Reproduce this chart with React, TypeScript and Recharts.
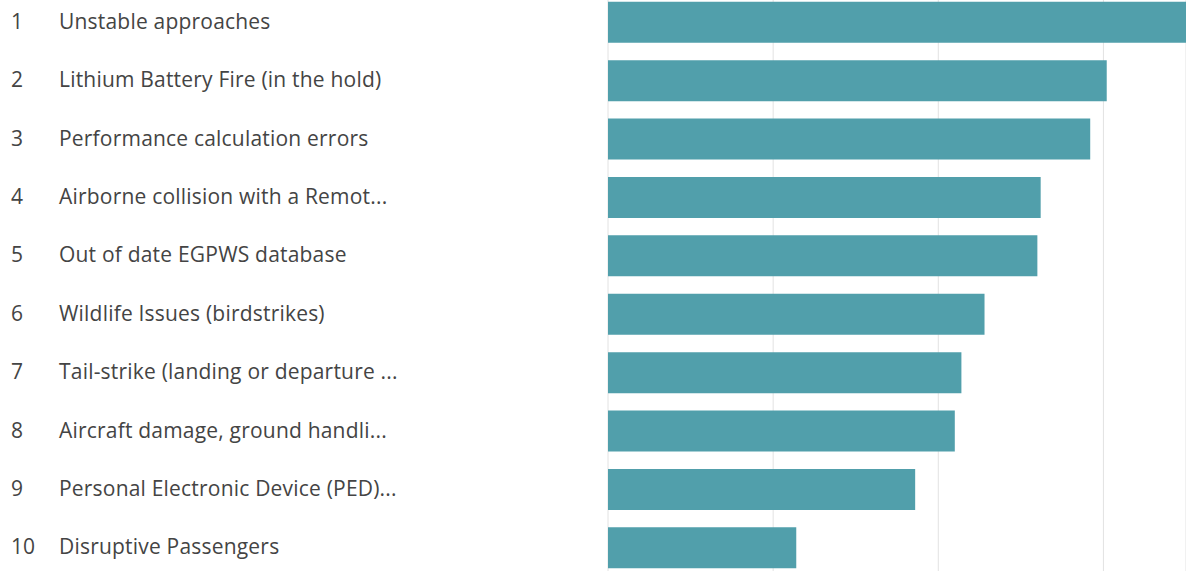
import React from 'react';
import { BarChart, Bar, XAxis, YAxis, CartesianGrid } from 'recharts';

const ranks = ['1', '2', '3', '4', '5', '6', '7', '8', '9', '10'];
const labels = [
  'Unstable approaches',
  'Lithium Battery Fire (in the hold)',
  'Performance calculation errors',
  'Airborne collision with a Remot...',
  'Out of date EGPWS database',
  'Wildlife Issues (birdstrikes)',
  'Tail-strike (landing or departure ...',
  'Aircraft damage, ground handli...',
  'Personal Electronic Device (PED)...',
  'Disruptive Passengers',
];
const values = [35, 30.2, 29.2, 26.2, 26.0, 22.8, 21.4, 21.0, 18.6, 11.4];
const xTicks = [0, 10, 20, 30];

const data = labels.map((name, i) => ({ name, rank: ranks[i], value: values[i] }));

const FONT = '"Segoe UI", "Open Sans", "Noto Sans", sans-serif';

function LabelTick(props: any) {
  const { y, payload, index } = props;
  return (
    <g>
      <text x={11} y={y} dy={6.5} fill="#444444" fontSize={21} fontFamily={FONT}>
        {ranks[index]}
      </text>
      <text x={59} y={y} dy={6.5} fill="#444444" fontSize={21} fontFamily={FONT} letterSpacing={0.2}>
        {payload.value}
      </text>
    </g>
  );
}

export default function App() {
  return (
    <div style={{ position: 'absolute', left: 0, top: 0, width: 1186, height: 571, overflow: 'hidden', background: '#fff' }}>
      <div style={{ marginTop: -7 }}>
        <BarChart
          width={1186}
          height={584}
          data={data}
          layout="vertical"
          margin={{ top: 0, right: 0, left: 0, bottom: 0 }}
          barCategoryGap="15%"
        >
          <CartesianGrid stroke="#e2e2e2" horizontal={false} vertical={true} />
          <XAxis type="number" domain={[0, 35]} ticks={xTicks} hide />
          <YAxis
            type="category"
            dataKey="name"
            width={608}
            axisLine={false}
            tickLine={false}
            tick={<LabelTick />}
            interval={0}
          />
          <Bar dataKey="value" fill="#519fab" isAnimationActive={false} />
        </BarChart>
      </div>
    </div>
  );
}
